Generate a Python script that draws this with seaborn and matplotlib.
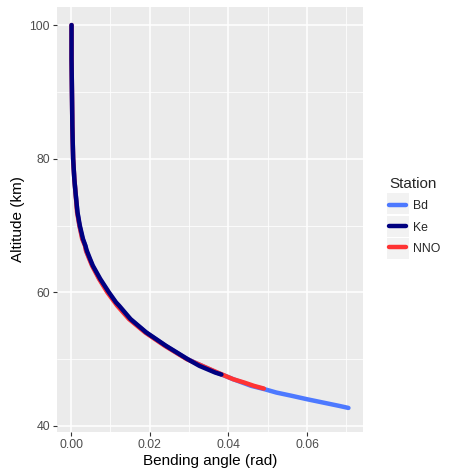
import numpy as np
import pandas as pd
import matplotlib
matplotlib.use("Agg")
import matplotlib.pyplot as plt
from matplotlib.patches import Rectangle
from matplotlib.ticker import MultipleLocator, FormatStrFormatter
import seaborn as sns

# Profili di bending angle per stazione
alt_bd = [100, 95, 90, 85, 80, 77, 75, 72, 70, 68, 67, 66.2, 65, 64, 62, 60, 58, 56, 54,
          52, 50, 48, 47, 46, 45.5, 45, 44.5, 44, 43.5, 43, 42.7]
ang_bd = [0.0001, 0.0001, 0.0002, 0.0003, 0.0005, 0.0008, 0.0011, 0.0016, 0.0021,
          0.0029, 0.0036, 0.0038, 0.0047, 0.0054, 0.0072, 0.0094, 0.0119, 0.0149, 0.0190,
          0.0240, 0.0296, 0.0370, 0.0412, 0.0458, 0.0492, 0.0522, 0.0562, 0.0600,
          0.0641, 0.0682, 0.0705]

alt_ke = [100, 95, 90, 85, 80, 77, 75, 72, 70, 68, 67, 66.2, 65, 64, 62, 60, 58.5, 58, 56, 54,
          52, 50, 49, 48.5, 48, 47.7]
ang_ke = [0.0001, 0.0001, 0.0002, 0.0003, 0.0005, 0.0008, 0.0011, 0.0016, 0.0022,
          0.0030, 0.0036, 0.0040, 0.0048, 0.0055, 0.0074, 0.0096, 0.0114, 0.0122, 0.0151, 0.0191,
          0.0241, 0.0296, 0.0326, 0.0346, 0.0366, 0.0382]

alt_nno = [100, 95, 90, 85, 80, 77, 75, 72, 70, 68, 67, 66.2, 65, 64, 62, 60, 58, 56, 54,
           52, 50, 48, 47.5, 47, 46.5, 46, 45.6]
ang_nno = [0.0001, 0.0001, 0.0002, 0.0003, 0.0005, 0.0008, 0.0011, 0.0015, 0.0021,
           0.0028, 0.0035, 0.0038, 0.0046, 0.0053, 0.0071, 0.0092, 0.0117, 0.0147, 0.0188,
           0.0238, 0.0294, 0.0372, 0.0392, 0.0412, 0.0440, 0.0465, 0.0490]

stations = ["Bd", "Ke", "NNO"]
colori = {"Bd": "#4D79FF", "Ke": "#000080", "NNO": "#FF3333"}

df = pd.concat([
    pd.DataFrame({"angle": ang_bd, "alt": alt_bd, "Station": "Bd"}),
    pd.DataFrame({"angle": ang_ke, "alt": alt_ke, "Station": "Ke"}),
    pd.DataFrame({"angle": ang_nno, "alt": alt_nno, "Station": "NNO"}),
], ignore_index=True)

sns.set_theme(style="darkgrid", rc={
    "axes.facecolor": "#EBEBEB",
    "grid.color": "white",
    "axes.edgecolor": "#EBEBEB",
})
plt.rcParams["font.family"] = ["Liberation Sans", "DejaVu Sans"]

fig = plt.figure(figsize=(4.52, 4.72), dpi=100)
ax = fig.add_axes([57 / 452, 40 / 472, 306 / 452, 425 / 472])

sns.lineplot(data=df, x="angle", y="alt", hue="Station", hue_order=stations,
             palette=colori, sort=False, estimator=None, linewidth=3.2,
             legend=False, ax=ax)
# Ke sopra alle altre
ax.lines[1].set_zorder(5)

ax.set_xlim(-0.0036, 0.0742)
ax.set_ylim(39.1, 102.7)
ax.xaxis.set_major_locator(MultipleLocator(0.02))
ax.xaxis.set_minor_locator(MultipleLocator(0.01))
ax.xaxis.set_major_formatter(FormatStrFormatter("%.2f"))
ax.yaxis.set_major_locator(MultipleLocator(20))
ax.yaxis.set_minor_locator(MultipleLocator(10))
ax.grid(which="major", color="white", linewidth=1.1)
ax.grid(which="minor", color="white", linewidth=0.55)
ax.tick_params(which="major", length=3, width=0.8, color="#333333",
               labelsize=8.8, labelcolor="#4D4D4D", pad=2, bottom=True, left=True)
ax.tick_params(which="minor", length=0)
for s in ax.spines.values():
    s.set_visible(False)
ax.set_xlabel("Bending angle (rad)", fontsize=11, color="black", labelpad=2)
ax.set_ylabel("Altitude (km)", fontsize=11, color="black", labelpad=3)

# Sfondo grigio delle chiavi della legenda
for yc in [203, 226, 248]:
    fig.patches.append(Rectangle((387 / 452, 1 - (yc + 10.5) / 472), 22 / 452, 21 / 472,
                                 transform=fig.transFigure, facecolor="#F2F2F2",
                                 edgecolor="none", zorder=1))

# Legenda stile ggplot
handles = [plt.Line2D([], [], color=colori[s], linewidth=3.2) for s in stations]
leg = fig.legend(handles, stations, title="Station", loc="center left",
                 bbox_to_anchor=(378 / 452, 1 - 216 / 472), frameon=False,
                 fontsize=8.8, title_fontsize=11, handlelength=1.4,
                 labelspacing=0.75, handletextpad=0.6, alignment="left")

fig.savefig("out.png", dpi=100)
